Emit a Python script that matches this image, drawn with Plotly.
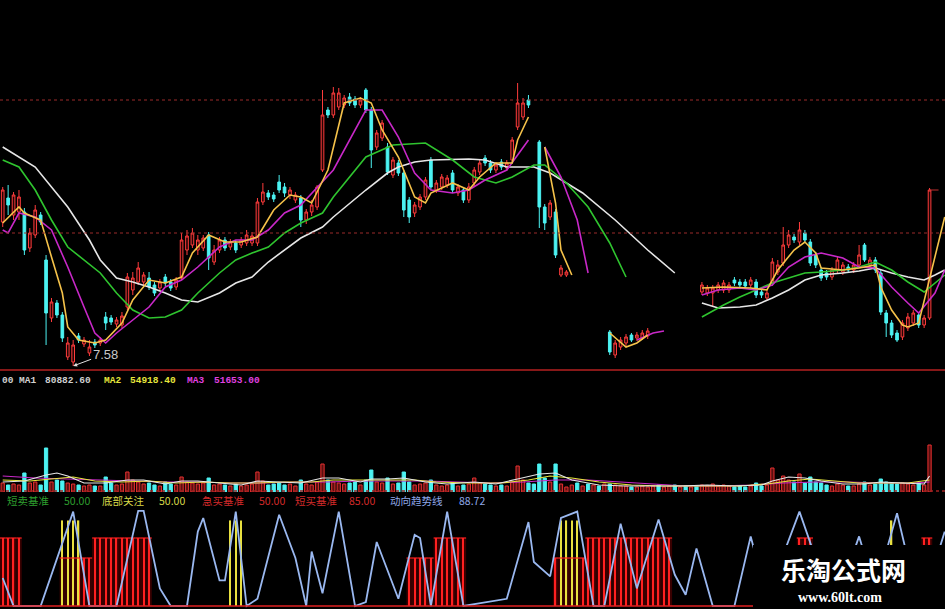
import plotly.graph_objects as go

W, H = 945, 609
N = 172

# ---------------- price data (candles 0..171, None = not drawn) ----------------
open_ = [10.46, 10.94, 10.60, 10.66, 10.66, 9.94, 10.20, 10.60, 9.70, 8.54,
         8.84, 8.60, 7.76, 7.66, 8.18, 8.02, 7.84, 8.06, 8.04, 8.56,
         8.54, 8.42, 8.40, 8.76, 9.10, 9.26, 9.26, 9.34, 9.20, 9.14,
         9.36, 9.26, 9.16, 9.34, 9.90, 10.00, 9.90, 9.94, 10.20, 9.66,
         9.90, 10.10, 9.96, 10.04, 10.00, 10.04, 10.04, 10.04, 10.86, 11.04,
         11.00, 11.26, 11.16, 11.00, 10.90, 10.94, 10.50, 10.66, 10.76, 11.50,
         12.70, 12.60, 12.76, 12.80, 12.96, 12.92, 12.80, 13.10, 12.70, 11.96,
         12.14, 11.96, 11.40, 11.64, 11.44, 10.90, 10.64, 10.76, 10.96, 11.70,
         11.10, 11.16, 11.20, 11.44, 11.04, 11.10, 10.90, 11.24, 11.46, 11.74,
         11.64, 11.50, 11.66, 11.54, 11.70, 12.36, 12.56, 12.90, None, 12.06,
         10.76, 10.56, 10.66, 9.40, 9.40, None, None, None, None, None,
         None, None, 8.26, 7.80, 7.96, 8.04, 8.20, 8.14, 8.14, 8.18,
         None, None, None, None, None, None, None, None, None, 9.06,
         9.04, 9.04, 9.10, 9.10, 9.10, 9.30, 9.26, 9.26, 9.20, 9.26,
         9.06, 8.94, 9.24, 9.46, 9.64, 10.00, 10.16, 10.06, 10.24, 10.06,
         9.80, 9.50, 9.44, 9.36, 9.50, 9.46, 9.56, 9.50, 9.60, 10.00,
         9.60, 9.70, 9.44, 8.64, 8.44, 8.24, 8.16, 8.34, 8.44, 8.60,
         8.40, 8.54]
close_ = [11.10, 10.80, 11.00, 10.96, 9.90, 10.24, 10.70, 10.46, 8.64, 8.86,
          8.60, 8.14, 8.04, 8.00, 8.10, 8.10, 7.96, 8.00, 8.10, 8.44,
          8.46, 8.50, 8.58, 9.36, 9.34, 9.54, 9.40, 9.16, 9.04, 9.26,
          9.24, 9.14, 9.30, 10.10, 10.18, 10.24, 10.10, 10.14, 9.74, 9.90,
          10.10, 9.94, 10.06, 9.90, 10.10, 10.20, 10.18, 10.86, 11.06, 10.96,
          10.92, 11.10, 11.04, 11.10, 11.00, 10.50, 10.66, 10.80, 11.16, 12.60,
          12.60, 13.04, 13.04, 12.94, 12.84, 12.80, 12.90, 12.70, 11.90, 12.24,
          12.44, 11.46, 11.70, 11.44, 10.70, 10.56, 10.80, 10.96, 11.30, 11.16,
          11.24, 11.36, 11.34, 11.10, 11.16, 10.90, 11.16, 11.50, 11.64, 11.64,
          11.50, 11.60, 11.56, 11.64, 12.10, 12.84, 12.84, 12.80, None, 10.76,
          10.44, 10.84, 9.80, 9.54, 9.46, None, None, None, None, None,
          None, None, 7.86, 8.04, 8.10, 8.16, 8.10, 8.20, 8.24, 8.28,
          None, None, None, None, None, None, None, None, None, 9.20,
          9.14, 9.14, 9.20, 9.24, 9.20, 9.24, 9.20, 9.18, 9.30, 9.00,
          9.00, 9.04, 9.66, 9.60, 10.00, 10.20, 10.10, 10.30, 10.10, 9.64,
          9.60, 9.34, 9.36, 9.50, 9.70, 9.60, 9.50, 9.60, 9.80, 9.70,
          9.70, 9.50, 8.66, 8.44, 8.20, 8.10, 8.44, 8.56, 8.64, 8.40,
          8.54, 11.10]
high_ = [11.16, 11.20, 11.06, 11.10, 10.74, 10.34, 10.80, 10.66, 9.80, 8.94,
         8.90, 8.66, 8.16, 8.10, 8.24, 8.16, 8.10, 8.12, 8.16, 8.66,
         8.60, 8.56, 8.66, 9.44, 9.46, 9.66, 9.46, 9.46, 9.26, 9.32,
         9.42, 9.32, 9.36, 10.24, 10.30, 10.34, 10.20, 10.20, 10.26, 10.00,
         10.16, 10.16, 10.12, 10.10, 10.16, 10.30, 10.26, 10.94, 11.24, 11.10,
         11.06, 11.40, 11.24, 11.16, 11.06, 11.00, 10.72, 10.90, 11.20, 13.10,
         12.76, 13.16, 13.14, 13.00, 13.04, 12.98, 12.96, 13.14, 12.76, 12.30,
         12.50, 12.04, 11.76, 11.70, 11.50, 10.96, 10.86, 11.02, 11.36, 11.76,
         11.30, 11.42, 11.40, 11.50, 11.22, 11.16, 11.24, 11.56, 11.70, 11.80,
         11.70, 11.66, 11.72, 11.70, 12.16, 13.24, 12.94, 13.00, None, 12.10,
         10.82, 10.90, 10.72, 9.60, 9.50, None, None, None, None, None,
         None, None, 8.30, 8.10, 8.16, 8.22, 8.24, 8.26, 8.30, 8.34,
         None, None, None, None, None, None, None, None, None, 9.26,
         9.20, 9.20, 9.26, 9.30, 9.26, 9.36, 9.32, 9.32, 9.36, 9.32,
         9.12, 9.10, 9.74, 9.70, 10.36, 10.30, 10.22, 10.46, 10.30, 10.12,
         9.86, 9.56, 9.50, 9.56, 9.76, 9.66, 9.62, 9.66, 10.00, 10.04,
         9.76, 9.76, 9.50, 8.70, 8.50, 8.30, 8.50, 8.64, 8.70, 8.66,
         8.60, 11.14]
low_ = [10.36, 10.60, 10.50, 10.50, 9.80, 9.86, 10.14, 10.40, 8.00, 8.46,
        8.54, 8.06, 7.70, 7.58, 8.04, 7.96, 7.78, 7.94, 7.98, 8.30,
        8.40, 8.36, 8.34, 8.70, 9.00, 9.20, 9.20, 9.10, 8.98, 9.08,
        9.18, 9.08, 9.10, 9.30, 9.80, 9.94, 9.80, 9.88, 9.50, 9.60,
        9.84, 9.88, 9.90, 9.84, 9.94, 9.98, 9.98, 9.98, 10.80, 10.90,
        10.86, 11.04, 10.96, 10.92, 10.84, 10.36, 10.42, 10.58, 10.70, 11.46,
        12.54, 12.54, 12.70, 12.74, 12.78, 12.74, 12.74, 12.64, 11.54, 11.90,
        12.08, 11.40, 11.34, 11.38, 10.56, 10.44, 10.56, 10.70, 10.90, 11.10,
        11.04, 11.10, 11.14, 11.04, 10.98, 10.84, 10.84, 11.16, 11.40, 11.58,
        11.44, 11.44, 11.50, 11.48, 11.64, 12.30, 12.50, 12.74, None, 10.34,
        10.30, 10.50, 9.74, 9.36, 9.36, None, None, None, None, None,
        None, None, 7.80, 7.74, 7.90, 7.98, 8.06, 8.08, 8.10, 8.12,
        None, None, None, None, None, None, None, None, None, 9.00,
        8.98, 8.76, 9.04, 9.04, 9.04, 9.18, 9.14, 9.12, 9.14, 8.94,
        8.94, 8.88, 9.18, 9.40, 9.58, 9.94, 10.04, 10.00, 10.04, 9.58,
        9.54, 9.28, 9.30, 9.30, 9.44, 9.40, 9.44, 9.44, 9.54, 9.66,
        9.54, 9.44, 8.60, 8.16, 8.14, 8.06, 8.10, 8.28, 8.38, 8.34,
        8.34, 8.50]

# moving averages of price (None = break)
ma1_x = [0, 3, 4, 7, 9, 11, 12, 14, 17, 19, 22, 24, 27, 30, 33, 35, 38, 41, 44, 47, 50, 53, 55, 57, 60, 63, 66,
         68, 70, 73, 76, 78, 79, 83, 86, 88, 91, 94, 95, 97, None, 100, 102, 103, 105, None,
         112, 114, 115, 117, 119, None, 129, 133, 138, 141, 143, 146, 148, 150, 151, 155, 158, 161, 162, 164,
         166, 167, 169, 170.5, 173.8]
ma1 = [10.44, 10.76, 10.64, 10.50, 9.76, 9.04, 8.36, 8.10, 8.04, 8.10, 8.44, 8.90, 9.30, 9.24, 9.36, 9.84, 10.20,
       10.06, 10.06, 10.16, 10.70, 11.00, 10.96, 10.84, 11.50, 12.84, 12.94,
       12.84, 12.30, 11.76, 10.96, 10.84, 11.04, 11.24, 11.10, 11.36, 11.64, 11.64, 12.10, 12.56, None, 11.96,
       10.84, 9.90, 9.40, None,
       8.24, 8.04, 7.96, 8.04, 8.20, None, 9.14, 9.16, 9.14, 9.10, 9.50, 9.90, 10.06, 9.84, 9.54, 9.50, 9.54,
       9.60, 9.16, 8.70, 8.40, 8.36, 8.44, 9.10, 10.56]
ma2_x = [0, 1, 3, 6, 9, 12, 15, 17, 19, 21, 24, 27, 30, 33, 36, 40, 43, 46, 49, 52, 55, 61, 67, 70, 73, 76, 79,
         83, 86, 89, 93, 97, None, 100, 103, 106, 108, None, 117, 119, 120, 122, None,
         129, 132, 136, 139, 142, 145, 148, 151, 155, 158, 161, 164, 167, 169, 172, 173.8]
ma2 = [10.30, 10.24, 10.64, 10.56, 10.30, 9.56, 8.76, 8.24, 8.04, 8.24, 8.50, 8.76, 9.16, 9.30, 9.56, 9.96, 10.10,
       10.10, 10.30, 10.64, 10.80, 11.50, 12.70, 12.70, 12.16, 11.44, 11.10,
       11.04, 11.10, 11.30, 11.50, 12.10, None, 11.96, 11.36, 10.50, 9.44, None, 8.10, 8.20, 8.24, 8.28, None,
       9.00, 9.10, 9.14, 9.10, 9.20, 9.56, 9.76, 9.84, 9.74, 9.56, 9.54, 9.16, 8.84, 8.64, 9.04, 9.50]
ma3_x = [0, 3, 6, 9, 12, 15, 18, 21, 24, 27, 30, 33, 36, 40, 43, 46, 49, 52, 55, 59, 61, 67, 72, 78, 83, 87, 91,
         94, 98, 100, 104, 108, 112, 115, None,
         129, 133, 136, 139, 142, 145, 148, 151, 155, 158, 161, 164, 167, 170, 172, 173.8]
ma3 = [11.70, 11.56, 11.10, 10.50, 9.96, 9.70, 9.44, 9.04, 8.70, 8.54, 8.56, 8.70, 9.04, 9.44, 9.70, 9.84, 9.96,
       10.24, 10.44, 10.64, 10.96, 11.76, 12.00, 12.04, 11.70, 11.36, 11.24,
       11.36, 11.60, 11.60, 11.24, 10.76, 10.04, 9.36, None,
       8.56, 8.80, 8.96, 9.10, 9.24, 9.34, 9.44, 9.46, 9.50, 9.56, 9.66, 9.50, 9.26, 9.06, 9.24, 9.40]
ma4_x = [0, 6, 12, 16, 18, 21, 24, 27, 30, 33, 36, 40, 43, 46, 49, 52, 55, 59, 61, 67, 71, 73, 76, 79, 86, 89,
         93, 98, 101, 107, 113, 119, 124, None,
         129, 132, 136, 139, 142, 145, 148, 151, 155, 158, 161, 164, 167, 170, 172, 173.8]
ma4 = [11.96, 11.56, 10.76, 10.10, 9.70, 9.34, 9.26, 9.16, 9.04, 8.90, 8.86, 9.04, 9.24, 9.36, 9.66, 9.90, 10.14,
       10.36, 10.56, 11.10, 11.44, 11.56, 11.66, 11.70, 11.72, 11.70,
       11.56, 11.56, 11.44, 11.04, 10.50, 9.90, 9.44, None,
       8.84, 8.74, 8.76, 8.80, 8.94, 9.10, 9.30, 9.40, 9.44, 9.48, 9.54, 9.44, 9.36, 9.30, 9.40, 9.50]

low_label = "7.58"

# ---------------- volume ----------------
volume = [45000, 35000, 40000, 35000, 95000, 45000, 50000, 35000, 220000, 50000,
          60000, 55000, 45000, 40000, 35000, 30000, 35000, 30000, 30000, 75000,
          45000, 35000, 40000, 100000, 60000, 50000, 40000, 45000, 35000, 30000,
          50000, 40000, 35000, 75000, 50000, 45000, 40000, 45000, 70000, 35000,
          40000, 35000, 30000, 40000, 30000, 35000, 40000, 100000, 55000, 35000,
          40000, 45000, 35000, 40000, 30000, 60000, 40000, 35000, 50000, 140000,
          60000, 50000, 45000, 40000, 45000, 50000, 35000, 60000, 110000, 50000,
          45000, 70000, 40000, 45000, 100000, 50000, 35000, 40000, 45000, 60000,
          35000, 30000, 35000, 45000, 30000, 35000, 40000, 70000, 45000, 40000,
          35000, 30000, 35000, 30000, 50000, 130000, 60000, 45000, 40000, 140000,
          70000, 50000, 140000, 40000, 25000, 35000, 45000, 30000, 40000, 35000,
          30000, 40000, 40000, 35000, 30000, 30000, 25000, 25000, 30000, 25000,
          30000, 35000, 25000, 30000, 35000, 25000, 30000, 25000, 30000, 35000,
          30000, 40000, 30000, 35000, 30000, 25000, 30000, 25000, 30000, 45000,
          30000, 35000, 120000, 60000, 80000, 60000, 50000, 90000, 45000, 75000,
          50000, 45000, 35000, 30000, 40000, 35000, 30000, 30000, 40000, 50000,
          35000, 40000, 65000, 50000, 45000, 40000, 45000, 40000, 35000, 45000,
          35000, 235000]
# direction of the volume bars where no candle is drawn (1 = up/red, 0 = down/cyan)
gap_up = {98: 0, 105: 1, 106: 0, 107: 1, 108: 0, 109: 1, 110: 0, 111: 1,
          120: 1, 121: 0, 122: 1, 123: 1, 124: 0, 125: 1, 126: 0, 127: 1, 128: 0}

vma1_x = [0, 4, 8, 10, 12, 15, 19, 23, 26, 30, 33, 36, 40, 44, 47, 50, 55, 59, 62, 66, 68, 71, 74, 78, 82, 87,
          91, 95, 99, 102, 105, 110, 115, 120, 125, 130, 135, 140, 142, 145, 148, 151, 155, 159, 162, 166, 170, 171]
vma1 = [50000, 55000, 85000, 95000, 80000, 45000, 45000, 60000, 60000, 40000, 55000, 55000, 45000, 35000, 55000,
        50000, 45000, 70000, 70000, 50000, 65000, 65000, 70000, 50000, 40000, 50000, 40000, 65000, 90000, 95000,
        60000, 35000, 30000, 30000, 30000, 35000, 30000, 35000, 55000, 75000, 70000, 55000, 40000, 40000, 50000,
        45000, 40000, 80000]
vma2_x = [0, 5, 9, 13, 17, 22, 27, 32, 37, 42, 47, 52, 57, 61, 66, 71, 76, 80, 86, 92, 97, 101, 105, 110, 116,
          122, 130, 136, 141, 145, 149, 153, 158, 162, 167, 171]
vma2 = [60000, 55000, 65000, 75000, 55000, 50000, 55000, 45000, 50000, 45000, 45000, 50000, 50000, 60000, 60000,
        60000, 60000, 50000, 45000, 45000, 60000, 80000, 70000, 50000, 35000, 30000, 30000, 30000, 40000, 55000,
        65000, 55000, 45000, 45000, 45000, 60000]
vma3_x = [0, 6, 12, 18, 24, 30, 36, 42, 48, 54, 60, 66, 72, 78, 84, 90, 96, 102, 108, 114, 120, 126, 132, 138,
          144, 150, 156, 162, 168, 171]
vma3 = [80000, 70000, 65000, 60000, 55000, 50000, 50000, 45000, 45000, 50000, 50000, 55000, 55000, 55000, 50000,
        45000, 50000, 60000, 60000, 50000, 40000, 30000, 30000, 35000, 45000, 50000, 50000, 45000, 45000, 50000]
vol_labels = [("00", "#d0d0d0"), ("MA1", "#d0d0d0"), ("80882.60", "#d0d0d0"),
              ("MA2", "#e6e63c"), ("54918.40", "#e6e63c"),
              ("MA3", "#e040e0"), ("51653.00", "#e040e0")]

# ---------------- indicator ----------------
trend_x = [0, 2, 7, 13, 16, 21, 25, 26, 29, 31, 34, 36, 37, 40, 41, 43, 45, 47, 51, 54, 56, 57, 59, 62, 65, 67,
           69, 73, 76, 77, 79, 82, 85, 93, 97, 98, 101, 103, 106, 109, 111, 114, 117, 121, 124, 126, 128, 131,
           135, 138, 141, 147, 151, 154, 158, 161, 165, 168, 170, 173.8]
trend = [35, 0, 0, 118, 0, 0, 119, 119, 22, 0, 0, 93, 110, 32, 32, 118, 0, 9, 114, 60, 0, 68, 16, 118, 0, 5,
         80, 9, 89, 85, 0, 118, 0, 9, 105, 55, 37, 110, 118, 0, 0, 103, 22, 108, 39, 14, 72, 0,
         0, 87, 10, 118, 40, 10, 87, 20, 116, 30, 10, 93]
red_stick_x = [0, 1, 2, 3, 11, 12, 13, 14, 15, 16, 17, 18, 19, 20, 21, 22, 23, 24, 25, 26, 27,
               75, 76, 77, 78, 79, 80, 81, 82, 83, 84, 85,
               102, 103, 104, 105, 106, 107, 108, 109, 110, 111, 112, 113, 114, 115, 116, 117, 118, 119, 120,
               121, 122, 123, 147, 148, 149, 170, 171]
red_stick = [85, 85, 85, 85, 60, 60, 60, 60, 60, 60, 85, 85, 85, 85, 85, 85, 85, 85, 85, 85, 85,
             60, 60, 60, 60, 60, 85, 85, 85, 85, 85, 85,
             60, 60, 60, 60, 60, 60, 85, 85, 85, 85, 85, 85, 85, 85, 85, 85, 85, 85, 85,
             85, 85, 85, 85, 85, 85, 85, 85]
yellow_stick_x = [11, 12, 13, 14, 42, 43, 44, 103, 104, 105, 106, 164]
yellow_stick = [107, 107, 107, 107, 107, 107, 107, 107, 107, 107, 107, 107]
ind_labels = [("短卖基准", "#2e9e2e"), ("50.00", "#2e9e2e"),
              ("底部关注", "#d8d848"), ("50.00", "#d8d848"),
              ("急买基准", "#d42a2a"), ("50.00", "#d42a2a"),
              ("短买基准", "#d42a2a"), ("85.00", "#d42a2a"),
              ("动向趋势线", "#8fa8e8"), ("88.72", "#8fa8e8")]

# ---------------- figure ----------------
def py(y):
    return 1 - y / H

def px(x):
    return x / W

fig = go.Figure()
cx = [i for i in range(N) if open_[i] is not None]
fig.add_trace(go.Candlestick(
    x=cx, open=[open_[i] for i in cx], high=[high_[i] for i in cx],
    low=[low_[i] for i in cx], close=[close_[i] for i in cx],
    increasing=dict(line=dict(color="#ff3c3c", width=1), fillcolor="#240404"),
    decreasing=dict(line=dict(color="#4cf2f2", width=1), fillcolor="#4cf2f2"),
    whiskerwidth=0, hoverinfo="skip", showlegend=False, xaxis="x", yaxis="y"))

for xs, ys, col in [(ma4_x, ma4, "#e6e6e6"), (ma3_x, ma3, "#2fc42f"),
                    (ma2_x, ma2, "#c828c8"), (ma1_x, ma1, "#f5c24a")]:
    fig.add_trace(go.Scatter(x=xs, y=ys, mode="lines", line=dict(color=col, width=1.6),
                             hoverinfo="skip", showlegend=False, xaxis="x", yaxis="y"))

# volume
vx = list(range(N))
up = []
for i in vx:
    if open_[i] is None:
        up.append(gap_up.get(i, 1) == 1)
    else:
        up.append(close_[i] >= open_[i])
fig.add_trace(go.Bar(
    x=vx, y=volume, width=0.6,
    marker=dict(color=["#5a1010" if u else "#4cf2f2" for u in up],
                line=dict(color=["#e83030" if u else "#4cf2f2" for u in up], width=1)),
    hoverinfo="skip", showlegend=False, xaxis="x", yaxis="y2"))
for xs, ys, col in [(vma3_x, vma3, "#c828c8"), (vma2_x, vma2, "#e6e63c"), (vma1_x, vma1, "#e6e6e6")]:
    fig.add_trace(go.Scatter(x=xs, y=ys, mode="lines", line=dict(color=col, width=1.2),
                             hoverinfo="skip", showlegend=False, xaxis="x", yaxis="y2"))

# indicator: dark red blocks with thin bright sticks, top edge line
fig.add_trace(go.Bar(x=red_stick_x, y=red_stick, width=1.0,
                     marker=dict(color="#380000", line=dict(width=0)),
                     hoverinfo="skip", showlegend=False, xaxis="x", yaxis="y3"))
fig.add_trace(go.Bar(x=red_stick_x, y=red_stick, width=0.22,
                     marker=dict(color="#ff2020", line=dict(width=0)),
                     hoverinfo="skip", showlegend=False, xaxis="x", yaxis="y3"))
top_x, top_y = [], []
for xi, v in zip(red_stick_x, red_stick):
    top_x += [xi - 0.5, xi + 0.5, None]
    top_y += [v, v, None]
fig.add_trace(go.Scatter(x=top_x, y=top_y, mode="lines", line=dict(color="#ff2020", width=1.2),
                         hoverinfo="skip", showlegend=False, xaxis="x", yaxis="y3"))
fig.add_trace(go.Bar(x=yellow_stick_x, y=yellow_stick, width=0.25,
                     marker=dict(color="#e8e040", line=dict(width=0)),
                     hoverinfo="skip", showlegend=False, xaxis="x", yaxis="y3"))
fig.add_trace(go.Scatter(x=trend_x, y=trend, mode="lines", line=dict(color="#9ab8f0", width=1.8),
                         hoverinfo="skip", showlegend=False, xaxis="x", yaxis="y3"))

shapes = [
    dict(type="line", xref="paper", yref="paper", x0=0, x1=1, y0=py(370), y1=py(370),
         line=dict(color="#b42020", width=1.5)),
    dict(type="line", xref="paper", yref="y", x0=0, x1=1, y0=12.90, y1=12.90,
         line=dict(color="#9a2a2a", width=1, dash="dot")),
    dict(type="line", xref="paper", yref="y", x0=0, x1=1, y0=10.24, y1=10.24,
         line=dict(color="#9a2a2a", width=1, dash="dot")),
    dict(type="line", xref="x", yref="y", x0=171, x1=173.85, y0=11.10, y1=11.10,
         line=dict(color="#c03030", width=1, dash="dash")),
    dict(type="line", xref="paper", yref="paper", x0=0, x1=1, y0=py(491), y1=py(491),
         line=dict(color="#a02020", width=1.5, dash="dot")),
    dict(type="line", xref="paper", yref="y3", x0=0, x1=1, y0=0, y1=0,
         line=dict(color="#e02020", width=1.5)),
    dict(type="rect", xref="paper", yref="paper", x0=px(753), x1=1, y0=0, y1=py(545),
         fillcolor="#000000", line=dict(width=0), layer="above"),
]

annotations = []
vol_pos = [0, 17, 43, 102, 128, 185, 212]
for (t, c), xp in zip(vol_labels, vol_pos):
    annotations.append(dict(text="<b>" + t + "</b>", x=px(xp), y=py(380), xref="paper", yref="paper",
                            xanchor="left", yanchor="middle", showarrow=False,
                            font=dict(family="Liberation Mono", size=9.5, color=c)))
ind_pos = [5, 62, 100, 157, 200, 257, 293, 347, 388, 457]
for (t, c), xp in zip(ind_labels, ind_pos):
    annotations.append(dict(text=t, x=px(xp), y=py(500), xref="paper", yref="paper",
                            xanchor="left", yanchor="middle", showarrow=False,
                            font=dict(family="Noto Sans CJK SC", size=10.5, color=c)))
annotations.append(dict(text=low_label, x=13, y=7.58, xref="x", yref="y", showarrow=True,
                        arrowhead=2, arrowsize=0.8, arrowwidth=1, arrowcolor="#e0e0e0",
                        ax=32, ay=-12, xanchor="center",
                        font=dict(family="Liberation Sans", size=13, color="#c8c8c8")))
annotations.append(dict(text="<b>乐淘公式网</b>", x=px(843), y=py(569), xref="paper", yref="paper",
                        showarrow=False, xanchor="center", yanchor="middle",
                        font=dict(family="Noto Sans CJK SC", size=25, color="#ffffff")))
annotations.append(dict(text="<b>www.60lt.com</b>", x=px(840), y=py(597), xref="paper", yref="paper",
                        showarrow=False, xanchor="center", yanchor="middle",
                        font=dict(family="Liberation Serif", size=14, color="#ffffff")))

fig.update_layout(
    width=W, height=H, margin=dict(l=0, r=0, t=0, b=0),
    paper_bgcolor="#000000", plot_bgcolor="#000000",
    showlegend=False, bargap=0.3, barmode="overlay",
    xaxis=dict(range=[-0.5, 173.85], visible=False, rangeslider=dict(visible=False), fixedrange=True),
    yaxis=dict(domain=[py(370), 1], range=[7.50, 14.90], visible=False),
    yaxis2=dict(domain=[py(492), py(372)], range=[0, 600000], visible=False),
    yaxis3=dict(domain=[0, py(505)], range=[-3.75, 126.25], visible=False),
    shapes=shapes, annotations=annotations,
)

fig.write_html("out.html", config={"displayModeBar": False},
               post_script="document.body.style.margin='0';document.body.style.background='#000';")
